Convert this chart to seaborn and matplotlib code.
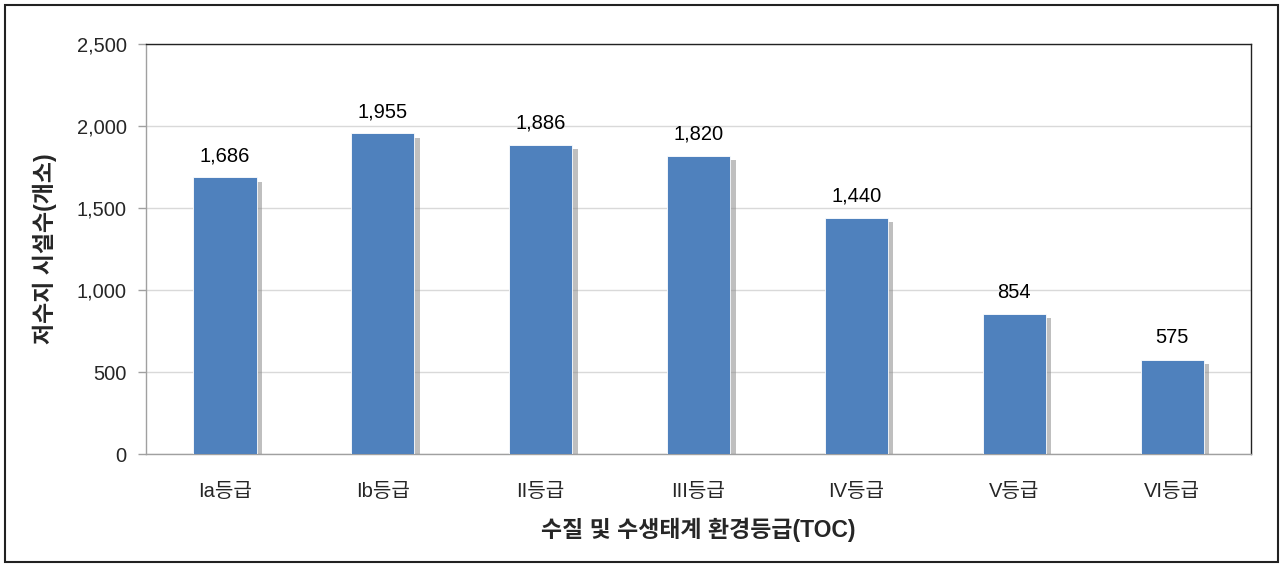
import numpy as np
import pandas as pd
import seaborn as sns
import matplotlib.pyplot as plt
import matplotlib.patheffects as pe
from matplotlib.patches import Rectangle

# 등급별 저수지 시설수
grades = ['Ia등급', 'Ib등급', 'II등급', 'III등급', 'IV등급', 'V등급', 'VI등급']
counts = [1686, 1955, 1886, 1820, 1440, 854, 575]
y_ticks = [0, 500, 1000, 1500, 2000, 2500]

df = pd.DataFrame({'grade': grades, 'count': counts})

sns.set_style('white')
plt.rcParams['font.family'] = ['Liberation Sans', 'Noto Sans CJK KR', 'DejaVu Sans']

fig = plt.figure(figsize=(12.83, 5.67), dpi=100)
ax = fig.add_axes([146 / 1283, 1 - 454 / 567, (1251 - 146) / 1283, (454 - 44) / 567])

sns.barplot(data=df, x='grade', y='count', color='#4F81BD', saturation=1,
            width=0.4, ax=ax, zorder=3)

# bar shadow on the right side
for p in ax.patches:
    p.set_edgecolor('white')
    p.set_linewidth(0.6)
    p.set_path_effects([pe.SimplePatchShadow(offset=(4, -3), shadow_rgbFace='#8c8c8c', alpha=0.55),
                        pe.Normal()])

for i, v in enumerate(counts):
    ax.text(i, v + 75, f'{v:,}', ha='center', va='bottom', fontsize=14.5, color='black')

ax.set_ylim(0, 2500)
ax.set_xlim(-0.5, len(grades) - 0.5)
ax.set_yticks(y_ticks)
ax.set_yticklabels([f'{t:,}' for t in y_ticks], fontsize=14.5)
ax.yaxis.grid(True, color='#d9d9d9', linewidth=1, zorder=0)
ax.set_axisbelow(True)

ax.set_xticks(range(len(grades)))
ax.set_xticklabels(grades, fontsize=14.5)
ax.set_xticks(np.arange(-0.5, len(grades), 1), minor=True)
ax.tick_params(axis='x', which='major', length=0, pad=20)
ax.tick_params(axis='x', which='minor', length=6, color='#a0a0a0', width=1)
ax.tick_params(axis='y', which='major', length=6, color='#a0a0a0', width=1, pad=8, left=True)

for side in ['left', 'bottom']:
    ax.spines[side].set_color('#a0a0a0')
    ax.spines[side].set_linewidth(1)
for side in ['top', 'right']:
    ax.spines[side].set_visible(True)
    ax.spines[side].set_color('#222222')
    ax.spines[side].set_linewidth(1)

ax.set_xlabel('수질 및 수생태계 환경등급(TOC)', fontsize=16.5, fontweight='bold', labelpad=12)
ax.set_ylabel('저수지 시설수(개소)', fontsize=16.5, fontweight='bold', labelpad=14)

fig.patches.append(Rectangle((5 / 1283, 5 / 567), 1273 / 1283, 557 / 567,
                             transform=fig.transFigure, fill=False,
                             edgecolor='#222222', linewidth=1.5))

fig.savefig('out.png', dpi=100, facecolor='white')
